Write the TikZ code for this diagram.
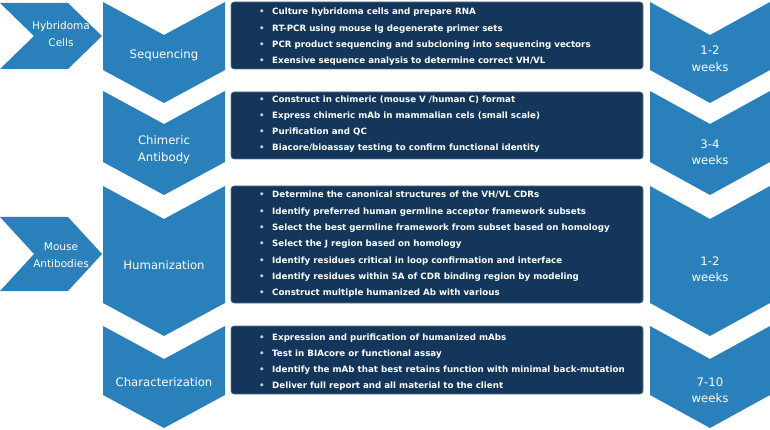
\documentclass[tikz,border=0pt]{standalone}
\usepackage{fontspec}
\setmainfont{DejaVu Sans}
\definecolor{chev}{RGB}{42,128,186}
\definecolor{boxc}{RGB}{19,54,90}
\definecolor{boxedge}{RGB}{95,115,140}
\definecolor{bulc}{RGB}{200,206,212}
\tikzset{
  chevfill/.style={fill=chev},
  darkbox/.style={fill=boxc, draw=boxedge, line width=0.6pt, rounded corners=3pt},
  bl/.style={anchor=base west, inner sep=0pt, text=white, font=\bfseries\fontsize{8.7}{10}\selectfont},
  lbl/.style={text=white, inner sep=0pt, align=center, font=\fontsize{11.7}{16.5}\selectfont},
  small lbl/.style={text=white, inner sep=0pt, align=center, font=\fontsize{10.5}{17}\selectfont},
}
\newcommand{\chevpath}[4]{% x0, x1, ytop, yside
  \fill[chevfill] (#1,#3) -- ({(#1+#2)/2},{#3+33}) -- (#2,#3) -- (#2,#4) -- ({(#1+#2)/2},{#4+33}) -- (#1,#4) -- cycle;}
\newcommand{\bul}{\makebox[13pt][l]{\textcolor{bulc}{•}}}
\begin{document}
\begin{tikzpicture}[x=1pt,y=-1pt]
\useasboundingbox (0,0) rectangle (770,430);
% input arrows
\fill[chevfill] (0,3) -- (68,3) -- (102,36) -- (68,69) -- (0,69) -- (34,36) -- cycle;
\fill[chevfill] (0,217) -- (68,217) -- (102,254) -- (68,291) -- (0,291) -- (34,254) -- cycle;
\node[small lbl] (hyb) at (61,34) {Hybridoma\\Cells};
\node[small lbl] (mouse) at (61,255) {Mouse\\Antibodies};
% left chevrons
\chevpath{103}{225}{2}{70}
\chevpath{103}{225}{91}{162}
\chevpath{103}{225}{186}{303}
\chevpath{103}{225}{326}{395}
\node[lbl] (seq) at (164,55) {Sequencing};
\node[lbl] (chim) at (164,150) {Chimeric\\Antibody};
\node[lbl] (hum) at (164,265) {Humanization};
\node[lbl] (char) at (164,382) {Characterization};
% right chevrons
\chevpath{650}{770}{2}{70}
\chevpath{650}{770}{91}{162}
\chevpath{650}{770}{186}{303}
\chevpath{650}{770}{326}{395}
\node[lbl] (w1) at (710,58.5) {1-2\\weeks};
\node[lbl] (w2) at (710,152) {3-4\\weeks};
\node[lbl] (w3) at (710,269) {1-2\\weeks};
\node[lbl] (w4) at (710,390) {7-10\\weeks};
% dark boxes
\draw[darkbox] (231,2) rectangle (643,69);
\draw[darkbox] (231,92) rectangle (643,159);
\draw[darkbox] (231,186) rectangle (643,303);
\draw[darkbox] (231,326) rectangle (643,394);
% box texts
\foreach \t [count=\i] in {{Culture hybridoma cells and prepare RNA},{RT-PCR using mouse Ig degenerate primer sets},{PCR product sequencing and subcloning into sequencing vectors},{Exensive sequence analysis to determine correct VH/VL}}
  \node[bl] (a\i) at (259,{15+16.3*(\i-1)}) {\bul\t};
\foreach \t [count=\i] in {{Construct in chimeric (mouse V /human C) format},{Express chimeric mAb in mammalian cels (small scale)},{Purification and QC},{Biacore/bioassay testing to confirm functional identity}}
  \node[bl] (b\i) at (259,{103+16*(\i-1)}) {\bul\t};
\foreach \t [count=\i] in {{Determine the canonical structures of the VH/VL CDRs},{Identify preferred human germline acceptor framework subsets},{Select the best germline framework from subset based on homology},{Select the J region based on homology},{Identify residues critical in loop confirmation and interface},{Identify residues within 5A of CDR binding region by modeling},{Construct multiple humanized Ab with various}}
  \node[bl] (c\i) at (259,{198+16.3*(\i-1)}) {\bul\t};
\foreach \t [count=\i] in {{Expression and purification of humanized mAbs},{Test in BIAcore or functional assay},{Identify the mAb that best retains function with minimal back-mutation},{Deliver full report and all material to the client}}
  \node[bl] (d\i) at (259,{340+16.3*(\i-1)}) {\bul\t};
\end{tikzpicture}
\end{document}
